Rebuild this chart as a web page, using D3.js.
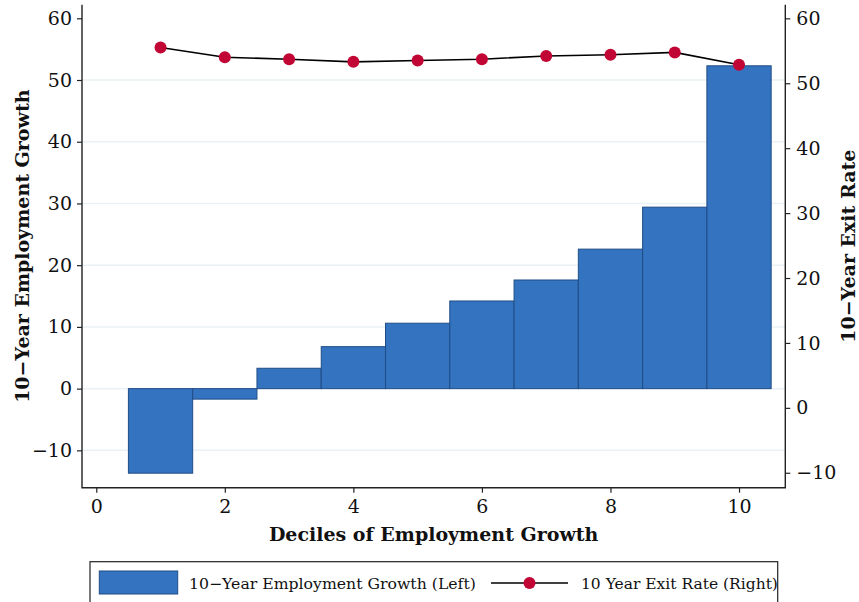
<!DOCTYPE html>
<html>
<head>
<meta charset="utf-8">
<script src="https://cdn.jsdelivr.net/npm/d3@7"></script>
<style>
  body { margin: 0; background: #fff; }
  text { font-family: "DejaVu Serif", "Liberation Serif", serif; fill: #111; }
</style>
</head>
<body>
<div id="chart"></div>
<script>
// Values
const deciles = [1, 2, 3, 4, 5, 6, 7, 8, 9, 10];
const growth = [-13.7, -1.7, 3.3, 6.8, 10.6, 14.2, 17.6, 22.6, 29.4, 52.3];
const exitRate = [55.5, 54.0, 53.7, 53.3, 53.5, 53.7, 54.2, 54.4, 54.75, 52.85];
const xTicks = [0, 2, 4, 6, 8, 10];
const leftTicks = [-10, 0, 10, 20, 30, 40, 50, 60];
const rightTicks = [-10, 0, 10, 20, 30, 40, 50, 60];
const gridTicks = [-10, 0, 10, 20, 30, 40, 50];

const width = 859, height = 602;
const margin = { top: 4.7, right: 73.7, bottom: 114.3, left: 82 };
const innerW = width - margin.left - margin.right;
const innerH = height - margin.top - margin.bottom;

const barFill = "#3473c0", barStroke = "#1f4d85", markerFill = "#c10534";

const svg = d3.select("#chart").append("svg")
    .attr("width", width)
    .attr("height", height);

const g = svg.append("g")
    .attr("transform", "translate(" + margin.left + "," + margin.top + ")");

const x = d3.scaleLinear().domain([-0.222, 10.72]).range([0, innerW]);
const yL = d3.scaleLinear().domain([-16.05, 62.2]).range([innerH, 0]);
const yR = d3.scaleLinear().domain([-12.3, 62.1]).range([innerH, 0]);

// grid lines
g.append("g").selectAll("line")
    .data(gridTicks)
    .enter().append("line")
        .attr("x1", 0).attr("x2", innerW)
        .attr("y1", d => yL(d)).attr("y2", d => yL(d))
        .attr("stroke", "#eaf1f5")
        .attr("stroke-width", 1.5);

// bars
g.append("g").selectAll("rect")
    .data(deciles)
    .enter().append("rect")
        .attr("x", d => x(d - 0.5))
        .attr("width", x(1) - x(0))
        .attr("y", (d, i) => yL(Math.max(0, growth[i])))
        .attr("height", (d, i) => Math.abs(yL(growth[i]) - yL(0)))
        .attr("fill", barFill)
        .attr("stroke", barStroke)
        .attr("stroke-width", 1);

// exit rate line + markers
const line = d3.line()
    .x((d, i) => x(deciles[i]))
    .y(d => yR(d));

g.append("path")
    .datum(exitRate)
    .attr("d", line)
    .attr("fill", "none")
    .attr("stroke", "#000")
    .attr("stroke-width", 1.6);

g.append("g").selectAll("circle")
    .data(exitRate)
    .enter().append("circle")
        .attr("cx", (d, i) => x(deciles[i]))
        .attr("cy", d => yR(d))
        .attr("r", 6)
        .attr("fill", markerFill);

// axes
function styleAxis(sel) {
    sel.select(".domain").remove();
    sel.selectAll(".tick line").attr("stroke", "#222").attr("stroke-width", 1.2);
    sel.selectAll(".tick text").style("font-size", "19px").attr("fill", "#111");
}

const fmt = d => (d < 0 ? "\u2212" + Math.abs(d) : "" + d);

g.append("g")
    .attr("transform", "translate(0," + innerH + ")")
    .call(d3.axisBottom(x).tickValues(xTicks).tickSize(5).tickPadding(7).tickFormat(fmt))
    .call(styleAxis);

g.append("g")
    .call(d3.axisLeft(yL).tickValues(leftTicks).tickSize(5).tickPadding(5).tickFormat(fmt))
    .call(styleAxis);

g.append("g")
    .attr("transform", "translate(" + innerW + ",0)")
    .call(d3.axisRight(yR).tickValues(rightTicks).tickSize(5).tickPadding(6).tickFormat(fmt))
    .call(styleAxis);

// axis lines (left, bottom, right)
g.append("path")
    .attr("d", "M0,0V" + innerH + "H" + innerW + "V0")
    .attr("fill", "none")
    .attr("stroke", "#222")
    .attr("stroke-width", 1.4);

// axis titles
svg.append("text")
    .attr("x", margin.left + innerW / 2)
    .attr("y", 541)
    .attr("text-anchor", "middle")
    .style("font-size", "19px")
    .style("font-weight", "bold")
    .text("Deciles of Employment Growth");

svg.append("text")
    .attr("transform", "translate(29," + (margin.top + innerH / 2) + ") rotate(-90)")
    .attr("text-anchor", "middle")
    .style("font-size", "19px")
    .style("font-weight", "bold")
    .text("10\u2212Year Employment Growth");

svg.append("text")
    .attr("transform", "translate(855," + (margin.top + innerH / 2) + ") rotate(-90)")
    .attr("text-anchor", "middle")
    .style("font-size", "19px")
    .style("font-weight", "bold")
    .text("10\u2212Year Exit Rate");

// legend
const legend = svg.append("g");
legend.append("rect")
    .attr("x", 90).attr("y", 561.7)
    .attr("width", 687.7).attr("height", 60)
    .attr("fill", "none")
    .attr("stroke", "#222")
    .attr("stroke-width", 1.2);

legend.append("rect")
    .attr("x", 99.3).attr("y", 571)
    .attr("width", 78.4).attr("height", 23)
    .attr("fill", barFill)
    .attr("stroke", barStroke)
    .attr("stroke-width", 1);

legend.append("text")
    .attr("x", 189).attr("y", 589)
    .style("font-size", "15.7px")
    .text("10\u2212Year Employment Growth (Left)");

legend.append("line")
    .attr("x1", 491).attr("x2", 568)
    .attr("y1", 583).attr("y2", 583)
    .attr("stroke", "#000")
    .attr("stroke-width", 1.6);

legend.append("circle")
    .attr("cx", 529.5).attr("cy", 583)
    .attr("r", 6)
    .attr("fill", markerFill);

legend.append("text")
    .attr("x", 581).attr("y", 589)
    .style("font-size", "15.5px")
    .text("10 Year Exit Rate (Right)");
</script>
</body>
</html>
